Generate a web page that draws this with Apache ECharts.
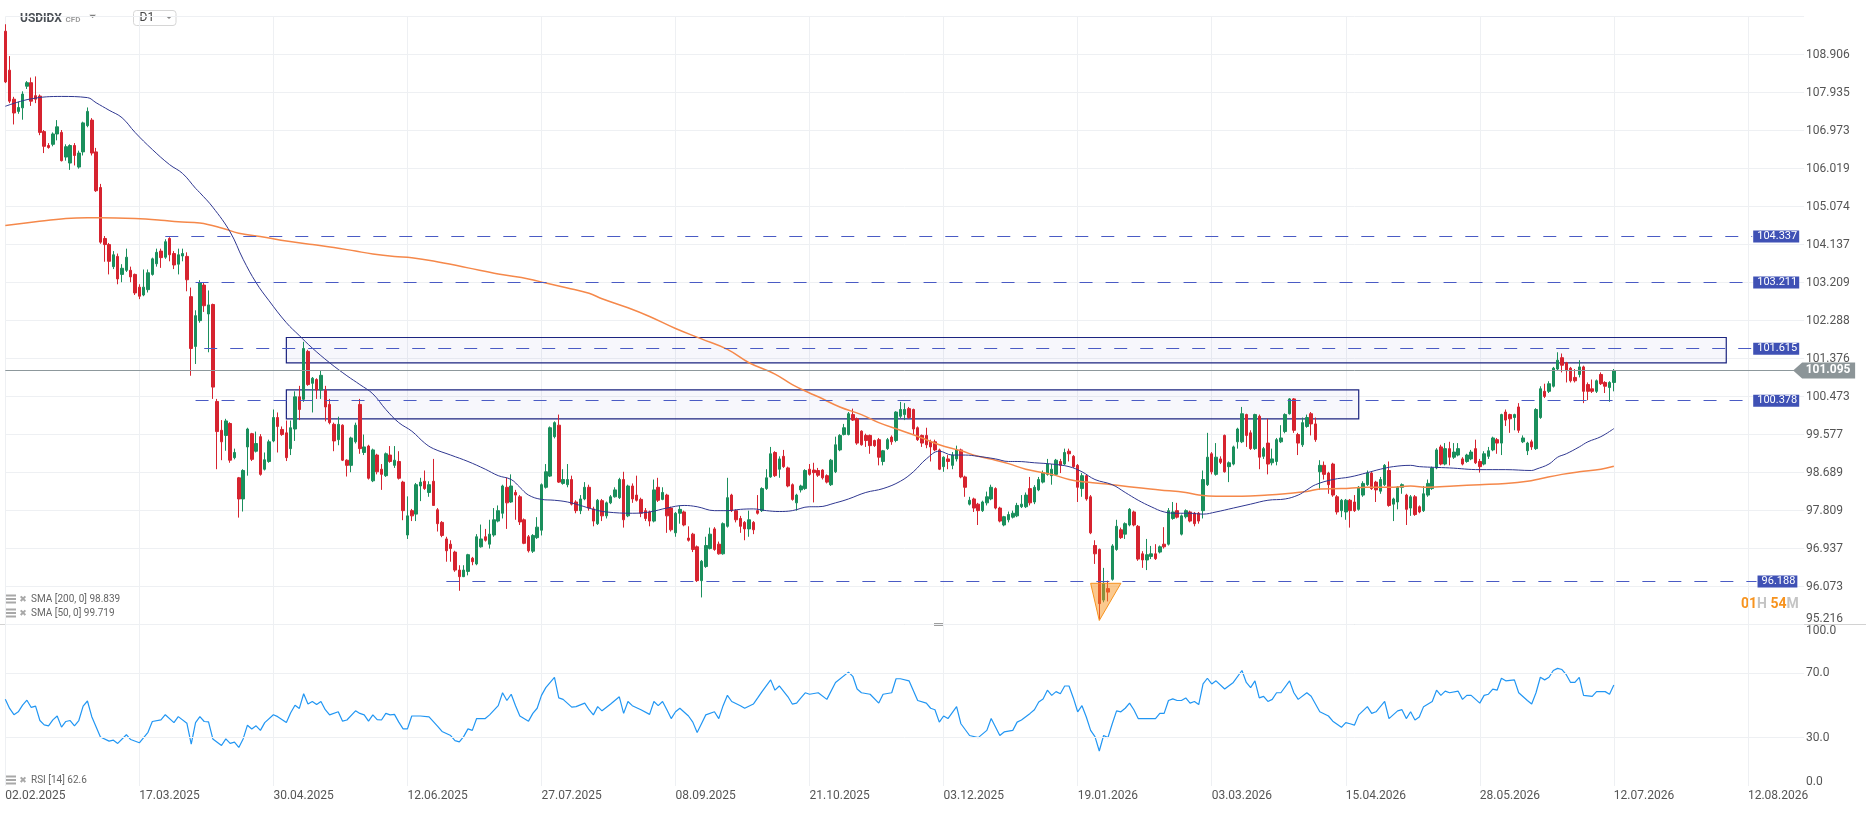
<!DOCTYPE html>
<html lang="en">
<head>
<meta charset="UTF-8">
<title>USDIDX D1</title>
<script src="https://cdn.jsdelivr.net/npm/echarts@6/dist/echarts.min.js"></script>
<style>
  html, body { margin: 0; padding: 0; background: #fff; }
  #chart { width: 1866px; height: 813px; }
</style>
</head>
<body>
<div id="chart"></div>
<script>
// price axis tick labels (log spaced), date ticks, RSI ticks
var yTickLabels = ['95.216', '96.073', '96.937', '97.809', '98.689', '99.577', '100.473', '101.376',
  '102.288', '103.209', '104.137', '105.074', '106.019', '106.973', '107.935', '108.906'];
var dateLabels = ['02.02.2025', '17.03.2025', '30.04.2025', '12.06.2025', '27.07.2025', '08.09.2025',
  '21.10.2025', '03.12.2025', '19.01.2026', '03.03.2026', '15.04.2026', '28.05.2026', '12.07.2026', '12.08.2026'];
var barsPerDate = 31;
var barCount = 417;
var rsiTickValues = [0, 30, 70, 100];
var rsiTickText = ['0.0', '30.0', '70.0', '100.0'];

// daily candles: [open, close, low, high]
var ohlc = [
[109.51,108.21,108.18,109.69],[108.51,107.72,107.67,108.87],[107.77,107.42,107.13,107.83],[107.46,107.56,107.40,107.71],
[107.55,107.90,107.25,107.97],[108.10,108.19,108.03,108.23],[108.19,107.72,107.60,108.32],[107.86,107.77,107.67,108.35],
[107.85,106.93,106.86,107.89],[106.95,106.58,106.41,106.99],[106.60,106.55,106.52,106.66],[106.63,106.89,106.58,106.93],
[106.89,107.07,106.73,107.24],[106.93,106.22,106.20,106.99],[106.31,106.57,106.22,106.63],[106.16,106.60,105.99,106.63],
[106.60,106.35,106.10,106.66],[106.06,106.41,106.02,106.47],[106.44,107.17,106.35,107.20],[107.10,107.46,107.06,107.56],
[107.24,106.41,106.35,107.29],[106.44,105.47,105.44,106.54],[105.55,104.20,104.16,105.64],[104.29,104.14,103.72,104.35],
[104.14,103.73,103.41,104.18],[103.60,103.89,103.54,103.98],[103.85,103.30,103.17,103.92],[103.41,103.56,103.22,103.66],
[103.51,103.83,103.47,104.04],[103.51,103.35,103.22,103.60],[103.41,102.96,102.91,103.43],[103.10,102.88,102.81,103.17],
[102.91,103.10,102.88,103.53],[103.04,103.45,102.97,103.53],[103.41,103.79,103.38,103.82],[103.67,103.95,103.60,104.04],
[103.98,103.82,103.57,104.04],[103.83,104.21,103.79,104.27],[104.29,103.89,103.73,104.32],[103.92,103.64,103.54,103.98],
[103.66,103.89,103.41,104.04],[103.86,103.92,103.73,104.04],[103.85,103.28,103.00,103.95],[102.87,101.62,100.97,103.09],
[101.67,102.41,101.25,102.54],[102.29,103.21,102.24,103.27],[103.15,102.65,102.50,103.21],[102.45,102.67,101.53,103.02],
[102.68,100.70,100.42,102.70],[100.36,99.65,98.77,100.42],[99.68,99.41,98.98,99.92],[99.56,99.90,99.20,99.95],
[99.84,98.98,98.92,99.87],[99.04,99.16,99.00,99.25],[98.57,98.08,97.65,98.59],[98.08,98.74,97.79,98.77],
[99.29,99.71,98.62,99.74],[99.60,99.00,98.96,99.62],[99.19,99.37,99.16,99.65],[99.53,98.65,98.62,99.59],
[98.77,98.99,98.74,99.16],[98.95,99.41,98.92,99.46],[99.43,99.98,99.40,100.17],[99.98,99.77,99.16,100.10],
[99.70,99.58,99.55,99.77],[99.62,99.04,98.96,99.91],[99.25,99.74,99.10,99.91],[99.71,100.47,99.43,100.60],
[100.47,100.17,99.92,100.73],[100.41,101.62,100.35,101.78],[101.55,100.76,100.73,101.59],[100.79,100.91,100.10,100.94],
[100.88,100.63,100.42,100.91],[100.63,100.98,100.42,101.10],[100.62,100.23,99.89,100.73],[100.29,99.86,99.82,100.42],
[99.82,99.43,99.19,99.86],[99.46,99.82,99.33,100.00],[99.80,98.98,98.96,99.82],[98.98,98.86,98.60,99.00],
[98.86,99.50,98.70,99.53],[99.41,99.80,99.37,99.86],[100.29,99.25,99.13,100.42],[99.16,99.29,99.10,99.58],
[99.31,98.56,98.53,99.34],[98.50,99.22,98.47,99.25],[99.10,98.71,98.65,99.13],[98.77,98.65,98.29,98.89],
[98.62,99.13,98.59,99.16],[99.10,98.95,98.92,99.31],[98.86,98.98,98.80,99.31],[98.95,98.56,98.53,99.19],
[98.47,97.81,97.59,98.50],[97.25,97.69,97.16,98.14],[97.81,97.69,97.57,97.85],[97.73,98.41,97.57,98.45],
[98.38,98.47,98.03,98.57],[98.49,98.32,98.29,98.74],[98.23,98.41,98.13,98.49],[98.49,97.93,97.93,99.01],
[97.83,97.51,97.33,97.87],[97.54,97.24,97.20,97.57],[97.16,96.89,96.64,97.21],[97.04,96.94,96.64,97.13],
[96.86,96.45,96.41,96.89],[96.45,96.30,95.98,96.56],[96.30,96.45,96.29,96.56],[96.42,96.80,96.33,96.82],
[96.72,96.64,96.56,96.75],[96.59,97.21,96.56,97.27],[96.98,97.16,96.96,97.49],[97.21,97.13,97.10,97.39],
[97.04,97.27,96.94,97.60],[97.25,97.60,97.21,97.87],[97.57,97.81,97.54,97.93],[97.75,98.38,97.63,98.41],
[98.35,97.99,97.39,98.57],[98.01,98.38,97.99,98.65],[98.23,98.17,97.60,98.29],[98.13,97.55,97.48,98.17],
[97.60,97.06,97.04,97.63],[97.21,96.89,96.85,97.25],[96.88,97.24,96.84,97.27],[97.19,97.43,97.16,97.66],
[97.36,98.41,97.24,98.44],[98.35,98.71,98.32,98.89],[98.61,99.74,98.59,99.77],[99.53,99.86,99.49,99.89],
[99.80,98.47,98.45,100.05],[98.44,98.53,98.41,98.77],[98.41,98.53,98.35,98.89],[98.53,97.96,97.93,98.62],
[98.01,97.81,97.75,98.05],[97.81,98.08,97.73,98.17],[98.08,98.35,98.05,98.47],[98.35,97.87,97.81,98.41],
[97.85,97.57,97.45,97.90],[97.51,98.05,97.48,98.08],[98.04,97.69,97.57,98.08],[97.69,97.99,97.63,98.02],
[97.99,98.13,97.96,98.17],[98.13,98.29,98.11,98.35],[98.11,98.53,98.08,98.57],[98.53,97.60,97.42,98.71],
[97.69,98.38,97.66,98.41],[98.38,98.08,97.99,98.44],[98.17,98.05,98.02,98.62],[98.07,97.75,97.66,98.11],
[97.81,97.63,97.57,97.87],[97.78,97.57,97.45,97.81],[97.57,98.29,97.54,98.53],[98.35,98.05,98.01,98.57],
[98.07,98.23,98.05,98.35],[98.17,97.69,97.30,98.20],[97.87,97.37,97.33,97.90],[97.30,97.75,97.21,97.78],
[97.75,97.84,97.51,97.93],[97.78,97.48,97.45,97.81],[97.18,97.13,97.10,97.45],[97.27,96.92,96.86,97.30],
[96.98,96.21,96.18,97.01],[96.21,96.65,95.83,96.68],[96.53,97.01,96.50,97.21],[96.94,97.27,96.92,97.42],
[97.39,96.92,96.89,97.43],[97.04,96.82,96.80,97.10],[96.82,97.51,96.80,97.54],[97.45,98.11,97.42,98.57],
[98.17,97.81,97.78,98.20],[97.81,97.60,97.54,97.84],[97.63,97.45,97.30,97.69],[97.54,97.39,97.13,97.57],
[97.39,97.60,97.21,97.81],[97.54,97.37,97.27,97.57],[97.81,97.75,97.72,98.17],[97.81,98.32,97.78,98.35],
[98.32,98.57,98.29,98.77],[98.59,99.13,98.57,99.29],[99.16,98.62,98.59,99.19],[98.77,99.01,98.57,99.07],
[99.07,98.83,98.80,99.22],[98.80,98.38,98.35,98.83],[98.41,98.07,98.04,98.44],[97.99,98.17,97.81,98.20],
[98.29,98.38,98.23,98.41],[98.32,98.74,98.29,98.77],[98.77,98.65,98.62,98.89],[98.75,98.69,98.00,98.92],
[98.74,98.63,98.59,98.80],[98.75,98.57,98.53,98.77],[98.62,98.47,98.44,98.65],[98.41,98.98,98.38,99.01],
[98.71,99.34,98.68,99.53],[99.22,99.56,99.19,99.59],[99.58,99.74,99.56,99.83],[99.58,100.07,99.56,100.11],
[100.05,99.92,99.90,100.19],[99.95,99.38,99.34,99.98],[99.66,99.34,99.32,99.68],[99.56,99.44,99.29,99.60],
[99.56,99.32,99.13,99.58],[99.44,99.32,99.29,99.46],[99.46,99.05,98.86,99.50],[98.95,99.20,98.86,99.22],
[99.25,99.46,99.22,99.50],[99.52,99.41,99.34,99.56],[99.44,100.11,99.40,100.13],[100.01,100.17,99.97,100.35],
[100.05,100.17,99.92,100.32],[100.19,99.98,99.95,100.23],[100.17,99.71,99.58,100.19],[99.74,99.46,99.43,99.77],
[99.56,99.38,99.29,99.58],[99.56,99.34,99.26,99.74],[99.41,99.29,98.95,99.46],[99.41,99.22,99.19,99.46],
[99.22,98.77,98.75,99.25],[98.83,99.05,98.71,99.07],[99.01,98.95,98.77,99.10],[98.86,99.10,98.77,99.17],
[99.01,99.22,98.95,99.32],[99.22,98.59,98.56,99.25],[98.59,98.35,98.13,98.62],[97.96,98.05,97.93,98.13],
[98.08,97.87,97.78,98.11],[97.96,97.81,97.48,97.99],[97.81,98.01,97.78,98.04],[97.99,98.13,97.93,98.25],
[98.08,98.35,98.05,98.41],[98.32,97.87,97.84,98.35],[97.87,97.57,97.54,97.90],[97.48,97.67,97.45,97.69],
[97.60,97.72,97.54,97.79],[97.66,97.75,97.63,97.81],[97.69,97.93,97.66,97.99],[97.90,97.96,97.87,98.17],
[97.90,98.17,97.87,98.23],[98.32,97.99,97.93,98.59],[98.01,98.35,97.96,98.40],[98.29,98.53,98.26,98.59],
[98.47,98.69,98.44,98.74],[98.65,98.89,98.62,99.01],[98.62,98.77,98.41,98.89],[98.65,98.98,98.62,99.01],
[98.95,98.86,98.68,99.01],[98.89,99.16,98.86,99.25],[99.19,99.13,98.95,99.25],[99.07,98.83,98.80,99.10],
[98.86,98.35,98.01,98.89],[98.32,98.62,98.13,98.68],[98.62,98.08,98.04,98.65],[98.13,97.30,97.27,98.17],
[97.01,96.82,96.59,97.13],[96.92,95.69,95.33,96.94],[95.77,96.15,95.72,96.50],[96.03,95.95,95.74,96.21],
[96.24,97.00,96.21,97.04],[96.92,97.45,96.89,97.60],[97.37,97.19,97.16,97.42],[97.27,97.51,97.16,97.54],
[97.48,97.84,97.45,97.87],[97.78,97.48,97.45,97.81],[97.45,96.70,96.66,97.48],[96.82,96.68,96.50,96.88],
[96.68,96.80,96.45,97.16],[96.76,96.82,96.70,97.00],[96.82,96.71,96.68,97.04],[96.86,96.98,96.83,97.01],
[97.04,96.98,96.94,97.43],[97.04,97.81,97.01,97.87],[97.63,97.78,97.60,98.01],[97.81,97.66,97.63,97.99],
[97.27,97.69,97.24,97.72],[97.67,97.81,97.63,97.84],[97.78,97.57,97.54,97.81],[97.75,97.51,97.45,97.78],
[97.75,97.57,97.51,97.78],[97.81,98.53,97.63,98.74],[98.41,99.05,98.38,99.62],[99.13,98.71,98.65,99.17],
[98.65,99.05,98.62,99.38],[99.01,98.93,98.89,99.07],[99.56,98.71,98.69,99.58],[98.83,98.92,98.47,98.95],
[98.89,99.29,98.86,99.32],[99.41,99.71,99.25,99.74],[99.41,100.07,99.38,100.23],[100.05,99.56,99.29,100.07],
[99.62,99.25,99.22,99.68],[99.25,100.05,99.22,100.07],[100.01,99.05,98.77,100.05],[99.07,99.25,99.01,99.29],
[99.38,98.89,98.65,99.95],[98.92,99.01,98.86,99.25],[98.95,99.46,98.86,99.50],[99.41,99.50,99.38,99.80],
[99.65,100.05,99.61,100.08],[100.07,100.42,100.05,100.44],[100.42,99.68,99.62,100.44],[99.58,99.38,99.10,99.62],
[99.34,99.86,99.29,99.98],[99.77,99.98,99.74,100.05],[100.07,99.83,99.56,100.11],[99.83,99.46,99.41,99.98],
[98.71,98.86,98.29,98.98],[98.86,98.65,98.53,98.95],[98.68,98.41,98.20,98.71],[98.89,98.17,98.13,98.92],
[98.13,97.78,97.72,98.17],[97.81,98.05,97.66,98.08],[97.78,98.05,97.60,98.08],[98.05,97.81,97.42,98.08],
[98.01,97.81,97.78,98.17],[97.84,98.35,97.81,98.38],[98.17,98.44,98.13,98.49],[98.41,98.68,98.38,98.74],
[98.68,98.32,98.29,98.71],[98.47,98.29,98.01,98.50],[98.26,98.53,98.20,98.59],[98.41,98.86,98.38,98.89],
[98.74,97.93,97.90,98.95],[97.96,98.08,97.57,98.11],[98.01,98.35,97.84,98.38],[98.35,98.41,98.20,98.44],
[98.17,97.84,97.48,98.20],[97.87,98.13,97.69,98.17],[98.13,97.72,97.69,98.17],[97.90,97.78,97.75,97.93],
[97.81,98.20,97.78,98.38],[98.17,98.44,98.13,98.53],[98.32,98.80,98.29,98.83],[98.80,99.22,98.77,99.26],
[99.29,98.89,98.86,99.34],[98.89,99.25,98.86,99.38],[99.25,99.05,98.86,99.41],[99.05,99.17,99.01,99.38],
[99.10,99.25,99.07,99.38],[99.01,98.89,98.86,99.05],[98.95,99.10,98.92,99.13],[99.01,99.17,98.98,99.22],
[99.25,98.92,98.89,99.46],[98.95,98.83,98.69,99.01],[98.89,99.13,98.86,99.19],[99.07,99.20,99.01,99.29],
[99.22,99.50,99.19,99.53],[99.46,99.38,99.13,99.50],[99.38,100.05,99.10,100.07],[100.11,99.92,99.78,100.17],
[100.05,99.95,99.62,100.07],[99.98,100.05,99.68,100.07],[100.23,99.68,99.62,100.32],[99.41,99.50,99.38,99.56],
[99.20,99.38,99.10,99.41],[99.41,99.29,99.22,99.46],[99.25,100.17,99.22,100.20],[99.98,100.66,99.95,100.72],
[100.60,100.48,100.44,100.78],[100.60,100.78,100.56,100.84],[100.72,101.15,100.69,101.18],[101.13,101.34,101.09,101.53],
[101.40,101.22,101.05,101.50],[101.28,101.09,100.81,101.30],[101.15,100.85,100.81,101.18],[100.93,100.85,100.81,101.13],
[101.00,101.18,100.93,101.34],[101.18,100.60,100.32,101.21],[100.76,100.60,100.39,100.81],[100.66,100.60,100.56,100.88],
[100.60,100.85,100.56,100.88],[101.00,100.78,100.75,101.05],[100.81,100.72,100.56,100.84],[100.69,100.81,100.35,100.84],
[100.81,101.095,100.60,101.13]
];

// moving averages: [bar, value]
var sma200 = [[0,104.61],[7,104.70],[14,104.78],[19,104.80],[22,104.80],[30,104.78],[36,104.74],[40,104.70],[45,104.67],
[50,104.55],[54,104.42],[60,104.32],[65,104.23],[71,104.14],[76,104.07],[81,103.98],[85,103.91],[90,103.85],[94,103.82],
[99,103.74],[107,103.57],[114,103.42],[121,103.30],[125,103.20],[130,103.08],[135,102.95],[138,102.82],[144,102.60],
[149,102.39],[155,102.10],[161,101.85],[167,101.60],[172,101.28],[178,101.01],[182,100.76],[186,100.56],[188,100.47],
[193,100.23],[198,100.05],[202,99.86],[207,99.68],[212,99.50],[216,99.34],[221,99.20],[225,99.07],[229,98.98],[232,98.90],
[236,98.77],[242,98.65],[246,98.53],[250,98.47],[256,98.41],[261,98.35],[267,98.29],[273,98.23],[276,98.17],[280,98.14],
[286,98.14],[292,98.17],[296,98.20],[301,98.25],[304,98.31],[309,98.32],[315,98.35],[320,98.35],[325,98.38],[329,98.35],
[335,98.38],[341,98.41],[347,98.44],[352,98.49],[355,98.55],[360,98.65],[364,98.71],[369,98.77],[372,98.84]];

var sma50 = [[0,107.59],[6,107.78],[13,107.84],[19,107.81],[21,107.68],[24,107.49],[27,107.30],[30,106.93],[34,106.50],
[38,106.12],[41,105.90],[44,105.53],[45,105.42],[48,105.06],[52,104.45],[55,103.78],[58,103.21],[61,102.77],[65,102.24],
[68,101.93],[71,101.63],[75,101.28],[79,100.97],[82,100.76],[85,100.54],[88,100.17],[91,99.86],[94,99.66],[97,99.38],
[99,99.25],[103,99.10],[107,98.95],[111,98.77],[114,98.62],[117,98.53],[119,98.35],[121,98.17],[124,98.07],[127,98.05],
[130,98.01],[133,97.93],[136,97.84],[139,97.78],[145,97.75],[149,97.78],[153,97.87],[157,97.93],[160,97.90],[164,97.81],
[167,97.81],[170,97.84],[173,97.85],[176,97.81],[179,97.79],[182,97.81],[186,97.90],[188,97.90],[192,97.99],[195,98.08],
[199,98.23],[203,98.32],[207,98.49],[210,98.71],[213,99.01],[216,99.19],[219,99.10],[222,99.10],[225,99.07],[229,99.01],
[232,98.95],[234,98.95],[238,98.92],[242,98.89],[246,98.83],[249,98.71],[252,98.53],[256,98.41],[259,98.23],[262,98.05],
[265,97.90],[268,97.78],[271,97.75],[274,97.75],[277,97.73],[280,97.78],[284,97.87],[288,97.96],[292,98.05],[296,98.08],
[299,98.17],[301,98.29],[303,98.41],[307,98.53],[311,98.59],[315,98.69],[318,98.77],[321,98.83],[325,98.86],[327,98.83],
[334,98.80],[341,98.76],[347,98.76],[353,98.74],[354,98.77],[357,98.89],[359,99.05],[361,99.13],[364,99.29],[366,99.41],
[369,99.53],[372,99.72]];

// RSI(14): [bar, value]
var rsi = [[0,53.8],[1,48.1],[2,44.2],[3,46.0],[4,50.1],[5,53.2],[6,48.7],[7,49.5],[8,40.6],[9,37.9],[10,37.3],[11,41.0],
[12,43.4],[13,36.5],[14,40.0],[15,40.6],[16,37.3],[17,40.6],[18,49.5],[19,52.7],[20,43.0],[22,30.4],[24,27.8],[25,28.4],
[26,26.4],[28,31.8],[29,28.8],[31,26.8],[33,33.3],[34,40.0],[36,41.0],[37,44.2],[39,39.3],[40,43.0],[42,38.9],[43,25.9],
[44,39.3],[45,43.0],[46,40.0],[47,39.8],[48,29.2],[50,25.1],[51,29.2],[52,26.4],[53,27.2],[54,23.9],[55,29.2],[56,37.7],
[57,35.3],[58,37.3],[59,34.5],[60,39.3],[62,44.2],[63,43.0],[65,39.3],[66,45.4],[67,50.1],[68,48.1],[69,57.2],[70,50.8],
[71,52.4],[72,50.5],[73,52.4],[74,47.3],[75,44.1],[77,46.0],[78,40.2],[79,40.9],[81,46.6],[82,45.0],[83,44.1],[84,40.2],
[85,44.1],[86,41.2],[87,40.9],[88,45.0],[89,44.1],[90,44.4],[91,39.6],[92,35.4],[93,35.4],[94,43.4],[96,43.4],[98,42.8],
[100,37.0],[101,33.8],[103,31.3],[104,28.1],[105,27.4],[106,30.6],[107,35.4],[108,34.5],[109,41.8],[111,41.8],[112,44.1],
[114,49.8],[115,57.8],[116,53.0],[117,56.9],[118,49.8],[119,43.4],[121,40.2],[122,45.0],[123,48.2],[124,56.2],[125,61.0],
[127,67.4],[128,54.6],[129,53.7],[131,48.9],[132,49.2],[134,51.4],[135,47.3],[136,44.1],[137,49.2],[138,46.6],[140,50.8],
[142,55.3],[143,45.0],[144,52.4],[145,49.8],[147,47.3],[149,44.4],[150,52.4],[151,49.8],[152,52.4],[153,47.3],[154,41.8],
[155,46.0],[156,48.2],[158,43.4],[159,39.6],[160,33.2],[161,38.6],[162,44.1],[164,46.0],[165,41.8],[166,49.8],[167,56.2],
[168,52.4],[170,49.8],[171,48.2],[173,50.8],[174,54.6],[175,58.5],[177,65.8],[178,59.4],[179,62.0],[181,55.3],[182,50.8],
[183,51.4],[184,54.6],[185,57.8],[186,56.9],[188,57.8],[190,53.7],[192,64.2],[195,70.6],[196,68.0],[197,60.1],[198,57.8],
[200,56.9],[202,51.4],[203,56.9],[205,57.8],[206,66.5],[207,66.5],[209,65.2],[211,53.0],[213,51.4],[214,48.2],[215,47.3],
[216,39.6],[217,43.4],[218,41.8],[220,49.2],[221,38.6],[223,31.3],[225,30.0],[227,34.5],[228,41.8],[230,31.3],[231,33.5],
[233,34.5],[234,39.6],[235,40.9],[237,45.0],[238,47.3],[239,52.1],[240,54.0],[241,59.4],[242,56.2],[243,58.5],[244,57.2],
[245,62.0],[246,62.0],[247,54.6],[248,46.0],[249,49.8],[250,42.8],[251,34.5],[252,30.6],[253,21.7],[254,31.3],[255,30.0],
[256,38.6],[257,46.6],[258,46.0],[259,48.2],[260,51.4],[261,47.3],[262,41.8],[263,41.8],[265,41.8],[266,41.8],[267,45.0],
[268,45.0],[269,53.0],[270,54.0],[271,53.0],[272,53.0],[273,54.6],[274,51.4],[275,52.4],[276,50.5],[277,63.3],[278,66.8],
[279,63.3],[280,65.2],[282,60.1],[284,64.2],[286,71.6],[287,64.2],[288,61.0],[289,65.2],[290,54.6],[291,55.6],[292,52.4],
[293,53.7],[294,57.8],[295,57.8],[297,65.2],[298,57.8],[299,53.7],[301,57.8],[302,55.6],[304,46.0],[306,43.4],[307,40.2],
[309,36.4],[310,39.3],[311,38.6],[312,37.7],[313,44.1],[315,49.2],[316,45.0],[317,46.0],[319,52.4],[320,41.8],[322,46.6],
[323,47.3],[324,41.8],[325,46.0],[326,40.9],[327,42.8],[328,49.2],[330,52.4],[331,59.4],[332,56.2],[333,58.8],[334,57.8],
[336,58.8],[337,53.7],[338,56.2],[339,56.2],[341,51.4],[342,56.2],[343,56.9],[344,60.1],[345,59.4],[346,66.8],[347,65.2],
[349,65.8],[350,57.8],[352,53.0],[353,50.8],[354,57.8],[355,67.4],[356,65.8],[357,67.4],[358,71.6],[359,72.9],[360,72.2],
[361,69.0],[362,64.2],[363,64.2],[364,67.4],[365,56.2],[367,55.6],[368,58.5],[370,58.5],[371,56.9],[372,62.6]];

// drawn annotations
var levels = [104.337, 103.211, 101.615, 100.378, 96.188];
var levelFrom = [37, 44, 46, 44, 102];
var levelTo = [404, 404, 404, 404, 405];
var zones = [[65, 398, 101.276, 101.884], [65, 313, 99.948, 100.636]]; // [fromBar, toBar, low, high]
var lastPrice = 101.095;
var triangle = [[251, 96.15], [258, 96.15], [253, 95.31]];
var legendSma200 = 'SMA [200, 0] 98.839';
var legendSma50 = 'SMA [50, 0] 99.719';
var legendRsi = 'RSI [14] 62.6';

// log price scale: one axis unit per tick step
var base = parseFloat(yTickLabels[0]);
var lnStep = Math.log(parseFloat(yTickLabels[yTickLabels.length - 1]) / base) / (yTickLabels.length - 1);
function toAxis(p) { return Math.log(p / base) / lnStep; }

var cats = [];
for (var i = 0; i < barCount; i++) cats.push(String(i));

var GREEN = '#1a8f5c', RED = '#d6232f';
var FONT = 'Roboto, "Noto Sans", sans-serif';
var gridLine = { lineStyle: { color: '#eef0f3', width: 1 } };

function isDateTick(idx) {
  return idx % barsPerDate === 0 && idx / barsPerDate < dateLabels.length;
}

var chart = echarts.init(document.getElementById('chart'));

var levelLines = levels.map(function (p, i) {
  return [
    {
      coord: [levelFrom[i], toAxis(p)],
      lineStyle: { type: [13, 13], color: '#4a5bc4', width: 1 },
      label: {
        show: true, position: 'end', distance: 1, formatter: String(p),
        color: '#fff', backgroundColor: '#3f51b5', padding: [1, 2, 0, 4], lineHeight: 11,
        fontSize: 11, fontFamily: FONT
      }
    },
    { coord: [levelTo[i], toAxis(p)] }
  ];
});
levelLines.push([
  { coord: [0, toAxis(lastPrice)], lineStyle: { type: 'solid', color: '#8d989c', width: 1 }, label: { show: false } },
  { coord: [barCount - 1, toAxis(lastPrice)] }
]);

var option = {
  animation: false,
  textStyle: { fontFamily: FONT },
  grid: [
    { left: 5.3, right: 61.9, top: 16.7, height: 608, outerBoundsMode: 'none' },
    { left: 5.3, right: 61.9, top: 624.7, height: 161.3, outerBoundsMode: 'none' }
  ],
  xAxis: [
    {
      type: 'category', gridIndex: 0, data: cats, boundaryGap: false,
      axisLine: { show: false }, axisTick: { show: false }, axisLabel: { show: false },
      splitLine: { show: true, interval: isDateTick, lineStyle: gridLine.lineStyle }
    },
    {
      type: 'category', gridIndex: 1, data: cats, boundaryGap: false,
      axisLine: { show: false }, axisTick: { show: false },
      axisLabel: {
        show: true, interval: isDateTick, align: 'left', margin: 4,
        color: '#555', fontSize: 12, fontFamily: FONT,
        formatter: function (v, idx) { return dateLabels[Math.round(idx / barsPerDate)]; }
      },
      splitLine: { show: true, interval: isDateTick, lineStyle: gridLine.lineStyle }
    }
  ],
  yAxis: [
    {
      type: 'value', gridIndex: 0, position: 'right', min: 0, max: 16, interval: 1,
      axisLine: { show: false }, axisTick: { show: false },
      splitLine: { show: true, lineStyle: gridLine.lineStyle },
      axisLabel: {
        margin: 2, color: '#555', fontSize: 12, fontFamily: FONT, showMaxLabel: false,
        formatter: function (v) {
          var k = Math.round(v);
          if (k === 0) return '{low|' + yTickLabels[0] + '}';
          return yTickLabels[k] || '';
        },
        rich: { low: { color: '#555', fontSize: 12, fontFamily: FONT, padding: [0, 0, 12, 0] } }
      }
    },
    {
      type: 'value', gridIndex: 1, position: 'right', min: 0, max: 100, interval: 10,
      axisLine: { show: false }, axisTick: { show: false }, splitLine: { show: false },
      axisLabel: {
        margin: 2, color: '#555', fontSize: 12, fontFamily: FONT,
        formatter: function (v) {
          var j = rsiTickValues.indexOf(Math.round(v));
          if (j < 0) return '';
          if (rsiTickValues[j] === 100) return '{top|' + rsiTickText[j] + '}';
          if (rsiTickValues[j] === 0) return '{bot|' + rsiTickText[j] + '}';
          return rsiTickText[j];
        },
        rich: {
          top: { color: '#555', fontSize: 12, fontFamily: FONT, padding: [13, 0, 0, 0] },
          bot: { color: '#555', fontSize: 12, fontFamily: FONT, padding: [0, 0, 8, 0] }
        }
      }
    }
  ],
  series: [
    {
      name: 'USDIDX', type: 'candlestick', xAxisIndex: 0, yAxisIndex: 0, clip: false,
      barWidth: 3,
      data: ohlc.map(function (d) { return d.map(toAxis); }),
      itemStyle: { color: GREEN, color0: RED, borderColor: GREEN, borderColor0: RED, borderWidth: 1 },
      markArea: {
        silent: true,
        itemStyle: { color: 'rgba(92,107,192,0.05)', borderColor: '#1c2580', borderWidth: 1.2 },
        data: zones.map(function (z) {
          return [{ coord: [z[0], toAxis(z[3])] }, { coord: [z[1], toAxis(z[2])] }];
        })
      },
      markLine: { silent: true, symbol: ['none', 'none'], data: levelLines },
      markPoint: {
        silent: true,
        data: [{
          coord: [barCount - 1, toAxis(lastPrice)],
          symbol: 'path://M0,8L9,0L62,0L62,16L9,16Z', symbolSize: [62, 16], symbolKeepAspect: false,
          symbolOffset: [20, 0],
          itemStyle: { color: '#8c9598' },
          label: {
            show: true, position: 'inside', formatter: String(lastPrice), offset: [4, 0],
            color: '#fff', fontSize: 12, fontWeight: 'bold', fontFamily: FONT
          }
        }]
      }
    },
    {
      name: 'SMA 200', type: 'line', xAxisIndex: 0, yAxisIndex: 0, showSymbol: false, smooth: 0.4,
      data: sma200.map(function (d) { return [d[0], toAxis(d[1])]; }),
      lineStyle: { color: '#f5884a', width: 1.5 }, z: 3
    },
    {
      name: 'SMA 50', type: 'line', xAxisIndex: 0, yAxisIndex: 0, showSymbol: false, smooth: 0.4,
      data: sma50.map(function (d) { return [d[0], toAxis(d[1])]; }),
      lineStyle: { color: '#2f3790', width: 1 }, z: 3
    },
    {
      name: 'Marker', type: 'custom', xAxisIndex: 0, yAxisIndex: 0, clip: false, silent: true, z: 4,
      data: [[triangle[0][0], toAxis(triangle[0][1]), triangle[1][0], toAxis(triangle[1][1]), triangle[2][0], toAxis(triangle[2][1])]],
      renderItem: function (params, api) {
        var a = api.coord([api.value(0), api.value(1)]);
        var b = api.coord([api.value(2), api.value(3)]);
        var c = api.coord([api.value(4), api.value(5)]);
        return {
          type: 'polygon', shape: { points: [a, b, c] },
          style: { fill: 'rgba(247,147,30,0.5)', stroke: '#f7931e', lineWidth: 1 }
        };
      }
    },
    {
      name: 'RSI', type: 'line', xAxisIndex: 1, yAxisIndex: 1, showSymbol: false,
      data: rsi, lineStyle: { color: '#2196f3', width: 1.2 },
      markLine: {
        silent: true, symbol: ['none', 'none'], label: { show: false },
        lineStyle: { type: 'solid', color: '#eef0f3', width: 1 },
        data: [{ yAxis: 70 }, { yAxis: 30 }]
      }
    }
  ],
  graphic: [
    { type: 'text', x: 20, y: 18.5, style: { text: 'USDIDX', font: 'bold 12px ' + FONT, fill: '#4a4f55', verticalAlign: 'middle' } },
    { type: 'text', x: 65.5, y: 19.5, style: { text: 'CFD', font: '600 8px ' + FONT, fill: '#9a9a9a', verticalAlign: 'middle' } },
    { type: 'polygon', shape: { points: [[89.3, 14.7], [96, 14.7], [92.6, 17.9]] }, style: { fill: '#7d7d7d' } },
    { type: 'rect', shape: { x: 133.5, y: 10.5, width: 42.5, height: 15, r: 3 }, style: { fill: '#fff', stroke: '#d6d6d6' } },
    { type: 'text', x: 139.5, y: 18.3, style: { text: 'D1', font: '12px ' + FONT, fill: '#444', verticalAlign: 'middle' } },
    { type: 'polygon', shape: { points: [[165.7, 16], [172.3, 16], [169, 18.9]] }, style: { fill: '#888' } },

    { type: 'rect', shape: { x: 6, y: 594.5, width: 10, height: 2 }, style: { fill: '#a8a8a8' } },
    { type: 'rect', shape: { x: 6, y: 598, width: 10, height: 2 }, style: { fill: '#a8a8a8' } },
    { type: 'rect', shape: { x: 6, y: 601.5, width: 10, height: 2 }, style: { fill: '#a8a8a8' } },
    { type: 'text', x: 19.3, y: 599.3, style: { text: '✖', font: '9px "DejaVu Sans"', fill: '#a8a8a8', verticalAlign: 'middle' } },
    { type: 'text', x: 31, y: 599.3, style: { text: legendSma200, font: '10px ' + FONT, fill: '#666', verticalAlign: 'middle' } },

    { type: 'rect', shape: { x: 6, y: 608.5, width: 10, height: 2 }, style: { fill: '#a8a8a8' } },
    { type: 'rect', shape: { x: 6, y: 612, width: 10, height: 2 }, style: { fill: '#a8a8a8' } },
    { type: 'rect', shape: { x: 6, y: 615.5, width: 10, height: 2 }, style: { fill: '#a8a8a8' } },
    { type: 'text', x: 19.3, y: 613.3, style: { text: '✖', font: '9px "DejaVu Sans"', fill: '#a8a8a8', verticalAlign: 'middle' } },
    { type: 'text', x: 31, y: 613.3, style: { text: legendSma50, font: '10px ' + FONT, fill: '#666', verticalAlign: 'middle' } },

    { type: 'rect', shape: { x: 6, y: 775.5, width: 10, height: 2 }, style: { fill: '#a8a8a8' } },
    { type: 'rect', shape: { x: 6, y: 779, width: 10, height: 2 }, style: { fill: '#a8a8a8' } },
    { type: 'rect', shape: { x: 6, y: 782.5, width: 10, height: 2 }, style: { fill: '#a8a8a8' } },
    { type: 'text', x: 19.3, y: 780.3, style: { text: '✖', font: '9px "DejaVu Sans"', fill: '#a8a8a8', verticalAlign: 'middle' } },
    { type: 'text', x: 31, y: 780.3, style: { text: legendRsi, font: '10px ' + FONT, fill: '#666', verticalAlign: 'middle' } },

    {
      type: 'text', x: 1741, y: 604,
      style: {
        text: '{o|01}{g|H} {o|54}{g|M}', verticalAlign: 'middle', font: 'bold 14px ' + FONT,
        rich: {
          o: { fill: '#f7931e', fontSize: 14, fontWeight: 'bold', fontFamily: FONT },
          g: { fill: '#c4c4c4', fontSize: 14, fontWeight: 'bold', fontFamily: FONT }
        }
      }
    },
    { type: 'line', shape: { x1: 0, y1: 624.5, x2: 1866, y2: 624.5 }, style: { stroke: '#d2d2d2', lineWidth: 1 } },
    { type: 'rect', shape: { x: 934, y: 623, width: 9, height: 3 }, style: { fill: '#9e9e9e' } }
  ]
};

chart.setOption(option);
</script>
</body>
</html>
